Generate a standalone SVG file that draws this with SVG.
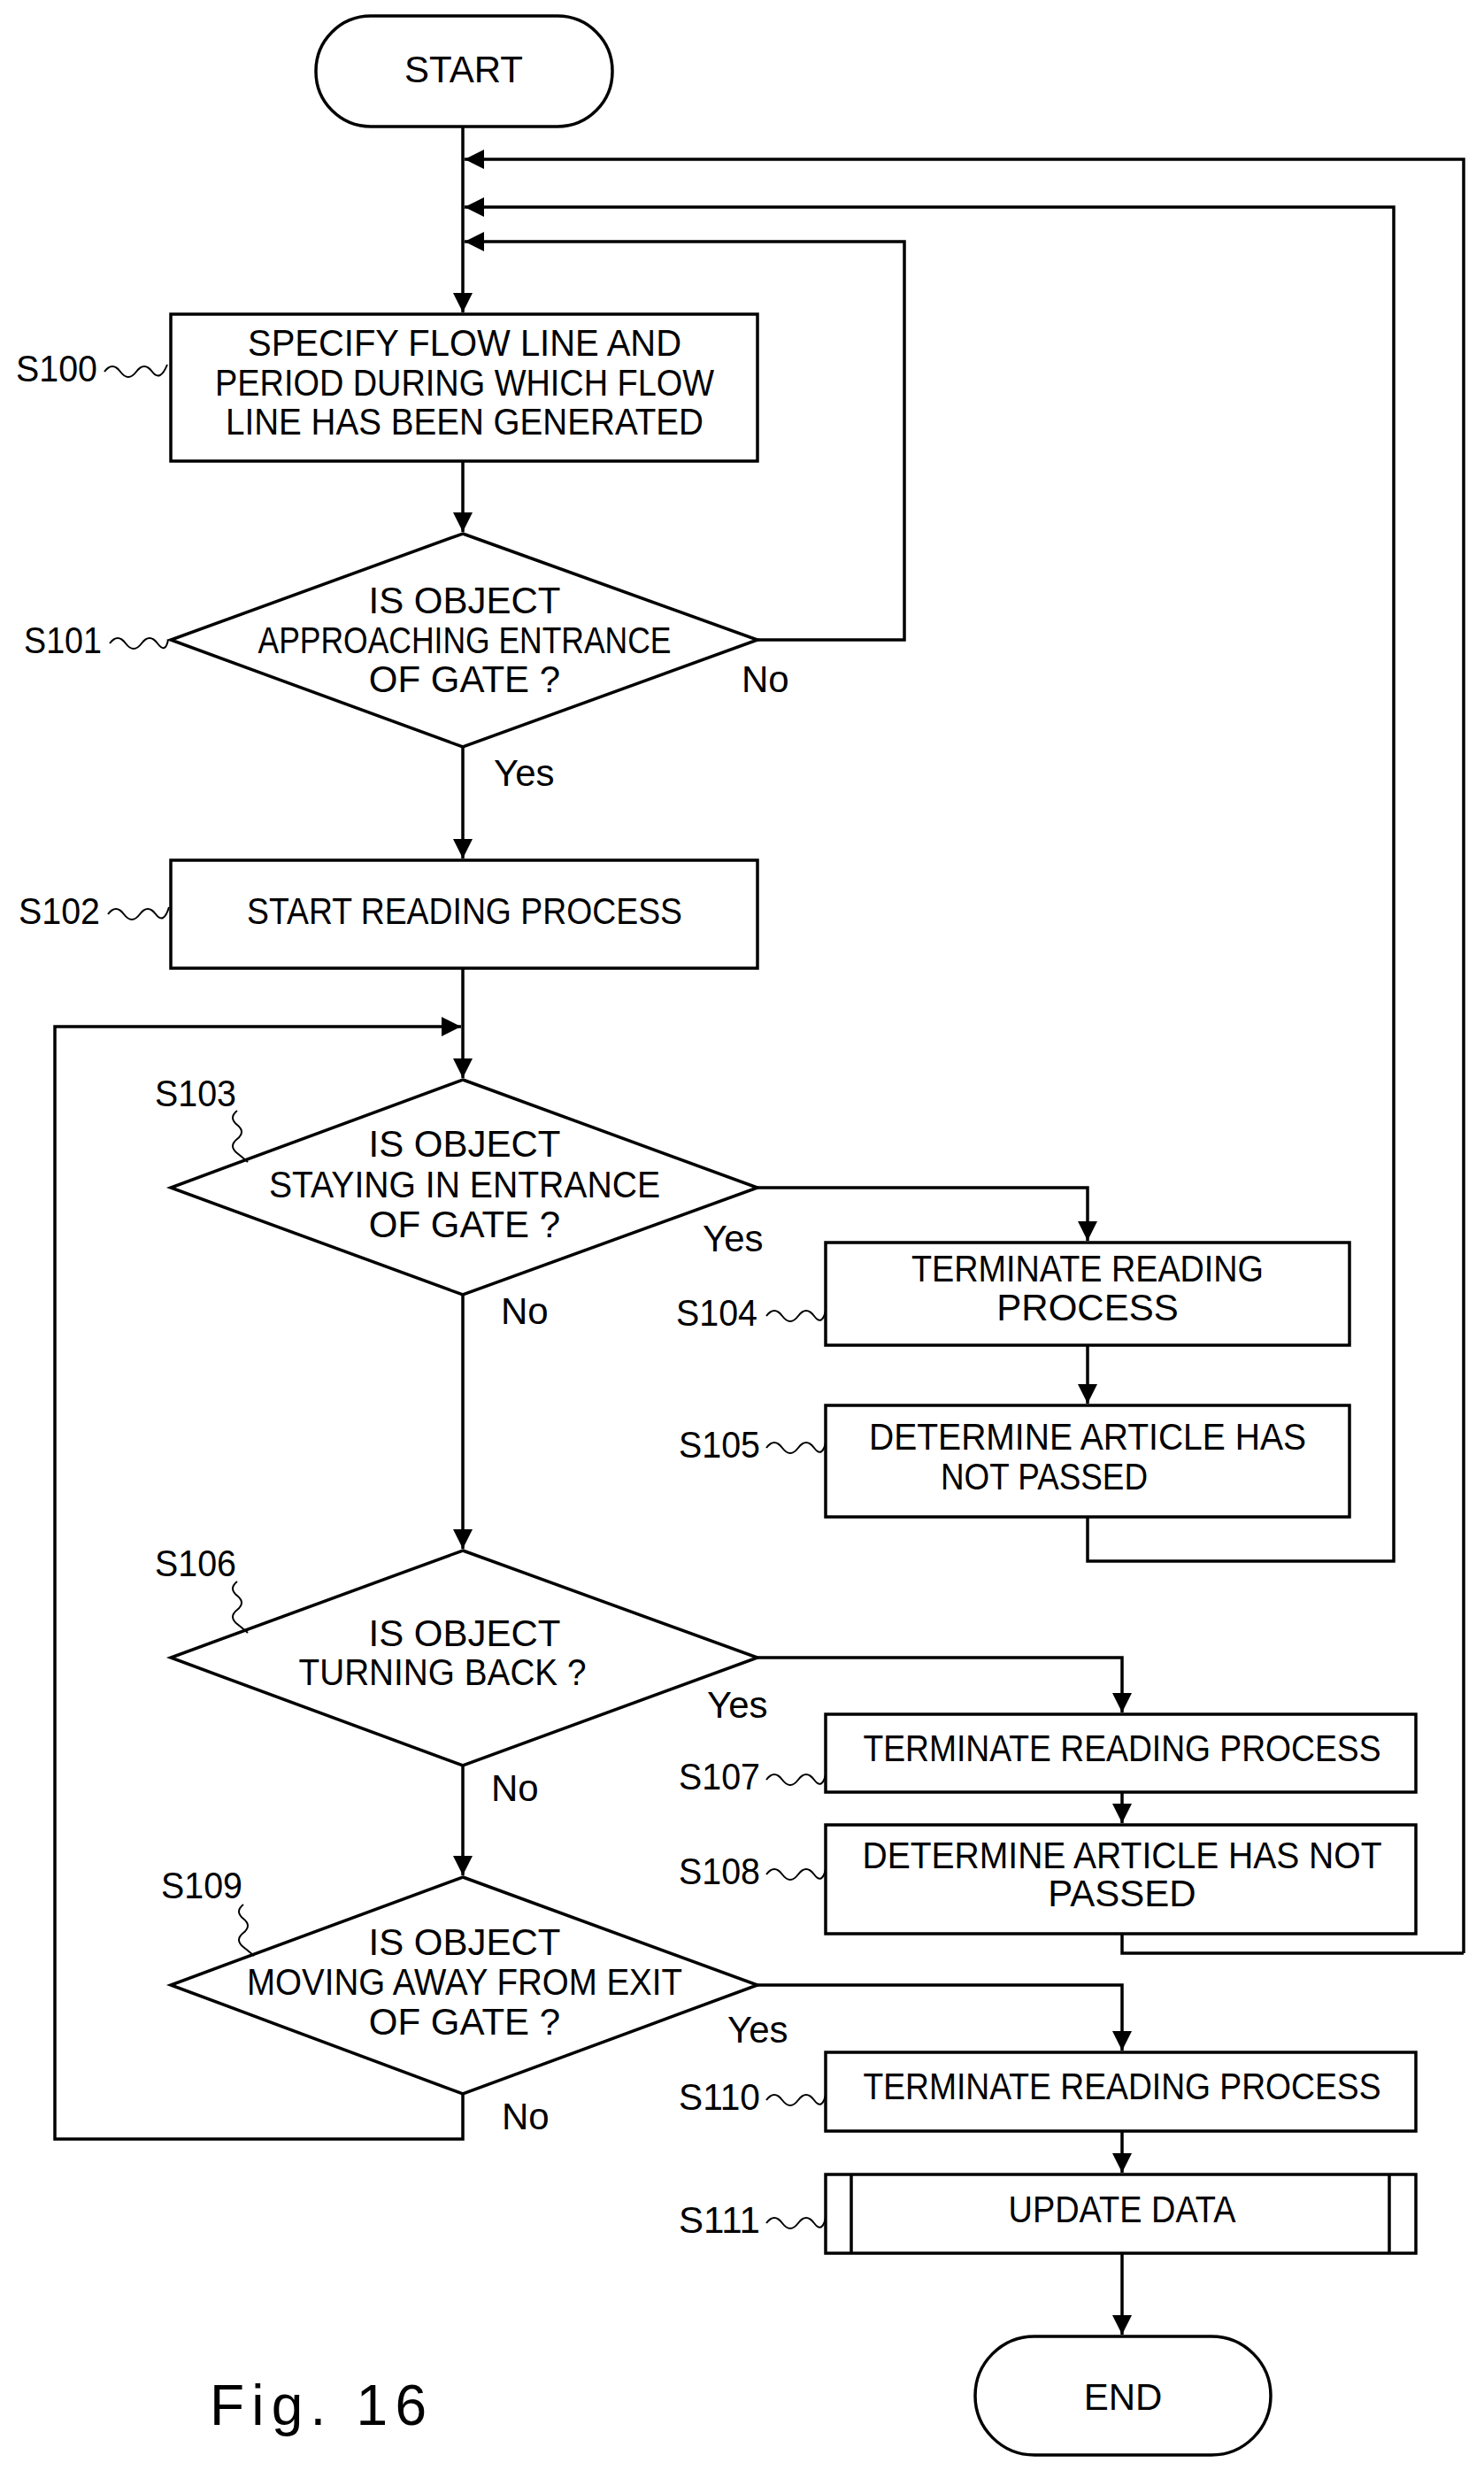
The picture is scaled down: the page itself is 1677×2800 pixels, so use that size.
<svg xmlns="http://www.w3.org/2000/svg" width="1677" height="2800" viewBox="0 0 1677 2800">
<style>
.s{fill:#fff;stroke:#000;stroke-width:3.5}
.l{fill:none;stroke:#000;stroke-width:3.5}
.w{fill:none;stroke:#000;stroke-width:2}
text{font-family:"Liberation Sans",Arial,sans-serif;font-size:42px;fill:#000}
.c{text-anchor:middle}
</style>
<defs>
<marker id="a" markerUnits="userSpaceOnUse" markerWidth="26" markerHeight="26" refX="22" refY="11" orient="auto"><path d="M0,0 L22,11 L0,22 Z" fill="#000"/></marker>
</defs>
<rect width="1677" height="2800" fill="#fff"/>
<g id="connectors">
<path class="l" d="M523,143 V353" marker-end="url(#a)"/>
<path class="l" d="M1654,2207 H1268 V2185 M1654,2207 V180 H525" marker-end="url(#a)"/>
<path class="l" d="M1229,1714 V1764 H1575 V234 H525" marker-end="url(#a)"/>
<path class="l" d="M856,723 H1022 V273 H525" marker-end="url(#a)"/>
<path class="l" d="M523,521 V601" marker-end="url(#a)"/>
<path class="l" d="M523,844 V970" marker-end="url(#a)"/>
<path class="l" d="M523,1094 V1218" marker-end="url(#a)"/>
<path class="l" d="M523,2366 V2417 H62 V1160 H521" marker-end="url(#a)"/>
<path class="l" d="M856,1342 H1229 V1402" marker-end="url(#a)"/>
<path class="l" d="M1229,1520 V1586" marker-end="url(#a)"/>
<path class="l" d="M523,1463 V1750" marker-end="url(#a)"/>
<path class="l" d="M856,1873 H1268 V1935" marker-end="url(#a)"/>
<path class="l" d="M1268,2025 V2060" marker-end="url(#a)"/>
<path class="l" d="M523,1995 V2119" marker-end="url(#a)"/>
<path class="l" d="M856,2243 H1268 V2317" marker-end="url(#a)"/>
<path class="l" d="M1268,2408 V2455" marker-end="url(#a)"/>
<path class="l" d="M1268,2546 V2638" marker-end="url(#a)"/>
</g>
<g id="start"><rect class="s" x="357" y="18" width="335" height="125" rx="62"/><text class="c" x="524" y="93">START</text></g>
<g id="s100"><rect class="s" x="193" y="355" width="663" height="166"/>
<text class="c" x="525" y="402" textLength="490" lengthAdjust="spacingAndGlyphs">SPECIFY FLOW LINE AND</text>
<text class="c" x="525" y="447" textLength="564" lengthAdjust="spacingAndGlyphs">PERIOD DURING WHICH FLOW</text>
<text class="c" x="525" y="491" textLength="540" lengthAdjust="spacingAndGlyphs">LINE HAS BEEN GENERATED</text>
<text x="18" y="431" textLength="92" lengthAdjust="spacingAndGlyphs">S100</text><path class="w" d="M118,420 q9,-12 18,0 t18,0 t18,0 t17,-8"/></g>
<g id="s101"><polygon class="s" points="523,603 856,723 523,844 193,723"/>
<text class="c" x="525" y="693">IS OBJECT</text>
<text class="c" x="525" y="738" textLength="467" lengthAdjust="spacingAndGlyphs">APPROACHING ENTRANCE</text>
<text class="c" x="525" y="782">OF GATE ?</text>
<text x="27" y="738" textLength="88" lengthAdjust="spacingAndGlyphs">S101</text><path class="w" d="M124,727 q9,-12 18,0 t18,0 t18,0 t12,-4"/>
<text x="838" y="782">No</text><text x="558" y="888">Yes</text></g>
<g id="s102"><rect class="s" x="193" y="972" width="663" height="122"/>
<text class="c" x="525" y="1044" textLength="492" lengthAdjust="spacingAndGlyphs">START READING PROCESS</text>
<text x="21" y="1044" textLength="92" lengthAdjust="spacingAndGlyphs">S102</text><path class="w" d="M122,1033 q9,-12 18,0 t18,0 t18,0 t15,-8"/></g>
<g id="s103"><polygon class="s" points="523,1220 856,1342 523,1463 193,1342"/>
<text class="c" x="525" y="1307">IS OBJECT</text>
<text class="c" x="525" y="1353" textLength="442" lengthAdjust="spacingAndGlyphs">STAYING IN ENTRANCE</text>
<text class="c" x="525" y="1398">OF GATE ?</text>
<text x="175" y="1250" textLength="92" lengthAdjust="spacingAndGlyphs">S103</text><path class="w" d="M268,1255 q-10,8 0,16 t0,16 t0,16 t12,10"/>
<text x="794" y="1414">Yes</text><text x="566" y="1496">No</text></g>
<g id="s104"><rect class="s" x="933" y="1404" width="592" height="116"/>
<text class="c" x="1229" y="1448" textLength="398" lengthAdjust="spacingAndGlyphs">TERMINATE READING</text>
<text class="c" x="1229" y="1492">PROCESS</text>
<text x="764" y="1498" textLength="92" lengthAdjust="spacingAndGlyphs">S104</text><path class="w" d="M866,1487 q9,-12 18,0 t18,0 t18,0 t13,-6"/></g>
<g id="s105"><rect class="s" x="933" y="1588" width="592" height="126"/>
<text class="c" x="1229" y="1638" textLength="494" lengthAdjust="spacingAndGlyphs">DETERMINE ARTICLE HAS</text>
<text class="c" x="1180" y="1683" textLength="234" lengthAdjust="spacingAndGlyphs">NOT PASSED</text>
<text x="767" y="1647" textLength="92" lengthAdjust="spacingAndGlyphs">S105</text><path class="w" d="M866,1636 q9,-12 18,0 t18,0 t18,0 t13,-6"/></g>
<g id="s106"><polygon class="s" points="523,1752 856,1873 523,1995 193,1873"/>
<text class="c" x="525" y="1860">IS OBJECT</text>
<text class="c" x="500" y="1904" textLength="325" lengthAdjust="spacingAndGlyphs">TURNING BACK ?</text>
<text x="175" y="1781" textLength="92" lengthAdjust="spacingAndGlyphs">S106</text><path class="w" d="M268,1787 q-10,8 0,16 t0,16 t0,16 t12,10"/>
<text x="799" y="1941">Yes</text><text x="555" y="2035">No</text></g>
<g id="s107"><rect class="s" x="933" y="1937" width="667" height="88"/>
<text class="c" x="1268" y="1990" textLength="585" lengthAdjust="spacingAndGlyphs">TERMINATE READING PROCESS</text>
<text x="767" y="2022" textLength="92" lengthAdjust="spacingAndGlyphs">S107</text><path class="w" d="M866,2011 q9,-12 18,0 t18,0 t18,0 t13,-6"/></g>
<g id="s108"><rect class="s" x="933" y="2062" width="667" height="123"/>
<text class="c" x="1268" y="2111" textLength="587" lengthAdjust="spacingAndGlyphs">DETERMINE ARTICLE HAS NOT</text>
<text class="c" x="1268" y="2154">PASSED</text>
<text x="767" y="2129" textLength="92" lengthAdjust="spacingAndGlyphs">S108</text><path class="w" d="M866,2118 q9,-12 18,0 t18,0 t18,0 t13,-6"/></g>
<g id="s109"><polygon class="s" points="523,2121 856,2243 523,2366 193,2243"/>
<text class="c" x="525" y="2209">IS OBJECT</text>
<text class="c" x="525" y="2254" textLength="492" lengthAdjust="spacingAndGlyphs">MOVING AWAY FROM EXIT</text>
<text class="c" x="525" y="2299">OF GATE ?</text>
<text x="182" y="2145" textLength="92" lengthAdjust="spacingAndGlyphs">S109</text><path class="w" d="M275,2152 q-10,8 0,16 t0,16 t0,16 t12,10"/>
<text x="822" y="2308">Yes</text><text x="567" y="2406">No</text></g>
<g id="s110"><rect class="s" x="933" y="2319" width="667" height="89"/>
<text class="c" x="1268" y="2372" textLength="585" lengthAdjust="spacingAndGlyphs">TERMINATE READING PROCESS</text>
<text x="767" y="2384" textLength="92" lengthAdjust="spacingAndGlyphs">S110</text><path class="w" d="M866,2373 q9,-12 18,0 t18,0 t18,0 t13,-6"/></g>
<g id="s111"><rect class="s" x="933" y="2457" width="667" height="89"/>
<path class="l" d="M962,2457 V2546 M1570,2457 V2546"/>
<text class="c" x="1268" y="2511" textLength="257" lengthAdjust="spacingAndGlyphs">UPDATE DATA</text>
<text x="767" y="2523" textLength="92" lengthAdjust="spacingAndGlyphs">S111</text><path class="w" d="M866,2512 q9,-12 18,0 t18,0 t18,0 t13,-6"/></g>
<g id="end"><rect class="s" x="1102" y="2640" width="334" height="134" rx="67"/><text class="c" x="1269" y="2723">END</text></g>
<text x="237" y="2740" style="font-size:64px" textLength="245" lengthAdjust="spacing">Fig. 16</text>
</svg>
